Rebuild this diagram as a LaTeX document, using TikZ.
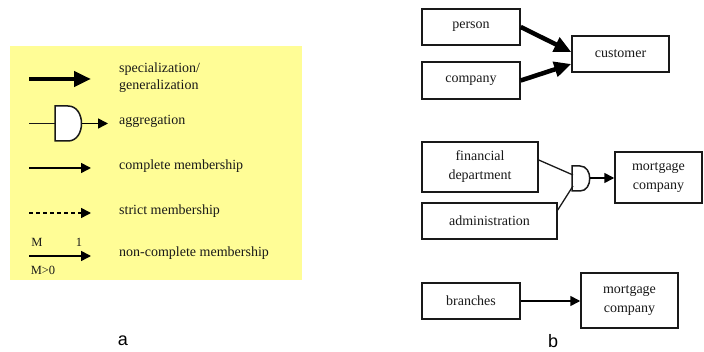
\documentclass[tikz,border=0pt]{standalone}
\usepackage{fontspec}
\setmainfont{Liberation Serif}
\newfontfamily\labelfont{Liberation Sans}
\usetikzlibrary{arrows.meta,calc}
\definecolor{legendyellow}{RGB}{255,253,150}
\definecolor{ink}{RGB}{25,25,25}
\tikzset{
  box/.style={draw=ink,line width=1.5pt,fill=white,inner sep=0pt,align=center,
    text=ink,font=\fontsize{14}{19}\selectfont},
  txt/.style={inner sep=0pt,align=left,text=ink,font=\fontsize{14}{17}\selectfont},
  small/.style={inner sep=0pt,text=ink,font=\fontsize{12.5}{14}\selectfont},
  bigarrow/.style={draw=black,line width=4.5pt,-{Triangle[length=17pt,width=15pt]}},
  thinarrow/.style={draw=black,line width=1.6pt,-{Triangle[length=10pt,width=10pt]}},
  plainline/.style={draw=ink,line width=1.3pt},
  gate/.style={draw=ink,line width=1.5pt,fill=white},
  panellabel/.style={inner sep=0pt,font=\labelfont\fontsize{18}{20}\selectfont}
}
\begin{document}
\begin{tikzpicture}[x=1pt,y=-1pt]
\useasboundingbox (0,0) rectangle (704,352);
% ---------- legend (a) ----------
\fill[legendyellow] (10,46) rectangle (302,280);
% specialization
\coordinate (s1) at (29,79);
\coordinate (s2) at (91,79);
\draw[bigarrow] (s1) -- (s2);
\node[txt,anchor=west] (tspec) at (119,77.5) {specialization/\\generalization};
% aggregation
\coordinate (a1) at (29,123.5);
\coordinate (ain) at (55,123.5);
\draw[plainline] (a1) -- (ain);
\draw[gate] (55,106) -- (68,106) .. controls (86,106) and (86,141) .. (68,141) -- (55,141) -- cycle;
\coordinate (aout) at (81.5,123.5);
\coordinate (a2) at (108,123.5);
\draw[thinarrow] (aout) -- (a2);
\node[txt,anchor=west] (tagg) at (119,121) {aggregation};
% complete membership
\coordinate (c1) at (29,168);
\coordinate (c2) at (91,168);
\draw[thinarrow] (c1) -- (c2);
\node[txt,anchor=west] (tcomp) at (119,166) {complete membership};
% strict membership
\coordinate (d1) at (29,213);
\coordinate (d2) at (91,213);
\draw[thinarrow,dash pattern=on 4pt off 3pt] (d1) -- (d2);
\node[txt,anchor=west] (tstrict) at (119,211) {strict membership};
% non-complete membership
\coordinate (n1) at (29,256);
\coordinate (n2) at (91,256);
\draw[thinarrow] (n1) -- (n2);
\node[small] (mM) at (37,242) {M};
\node[small] (m1) at (79,242) {1};
\node[small] (mM0) at (43,270) {M>0};
\node[txt,anchor=west] (tnon) at (119,253) {non-complete membership};
\node[panellabel] (la) at (123,341) {a};
% ---------- panel (b) ----------
\node[box,minimum width=98pt,minimum height=36pt] (person) at (471,27) {person};
\node[box,minimum width=98pt,minimum height=37pt] (company) at (471,80.5) {company};
\node[box,minimum width=97pt,minimum height=36pt] (customer) at (620.5,54) {customer};
\draw[bigarrow] (person.east) -- ([yshift=2pt]customer.west);
\draw[bigarrow] (company.east) -- ([yshift=-10pt]customer.west);

\node[box,minimum width=116pt,minimum height=50pt] (fin) at (480,167) {financial\\department};
\node[box,minimum width=135pt,minimum height=36pt] (admin) at (489.5,221) {administration};
\node[box,minimum width=87pt,minimum height=51pt] (mort1) at (658.5,177.5) {mortgage\\company};
\draw[gate] (572,166) -- (580,166) .. controls (593,166) and (593,191) .. (580,191) -- (572,191) -- cycle;
\coordinate (gin1) at (573,175);
\coordinate (gin2) at (573,186);
\coordinate (gout) at (589.5,178);
\draw[plainline] ([yshift=7pt]fin.east) -- (gin1);
\draw[plainline] ([yshift=11pt]admin.east) -- (gin2);
\draw[thinarrow] (gout) -- (gout -| mort1.west);

\node[box,minimum width=98pt,minimum height=36pt] (branches) at (471,301) {branches};
\node[box,minimum width=97pt,minimum height=55pt] (mort2) at (629.5,300.5) {mortgage\\company};
\draw[thinarrow] (branches.east) -- (branches.east -| mort2.west);
\node[panellabel] (lb) at (553,341) {b};
\end{tikzpicture}
\end{document}
